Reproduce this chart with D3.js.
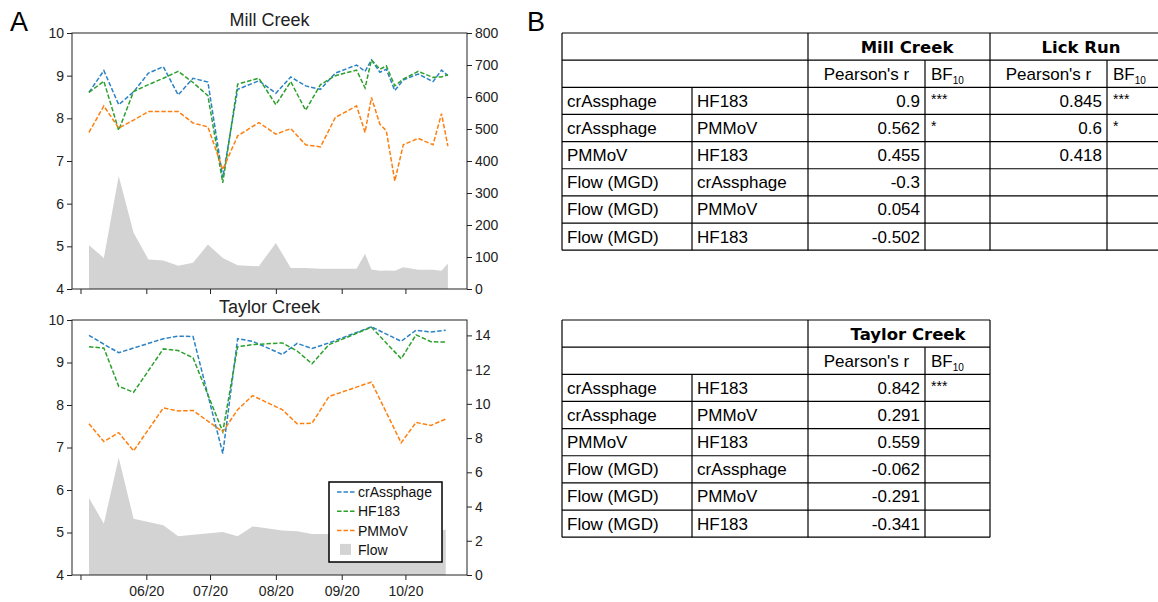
<!DOCTYPE html>
<html><head><meta charset="utf-8">
<script src="https://cdn.jsdelivr.net/npm/d3@7"></script>
<style>
body{margin:0;background:#fff}
svg{display:block;font-family:"Liberation Sans",Arial,sans-serif}
</style></head><body>
<svg id="c" width="1158" height="602"></svg>
<script>
// ---------- data ----------
const millDates = ["2020-05-05","2020-05-12","2020-05-19","2020-05-26","2020-06-02","2020-06-09","2020-06-16","2020-06-23","2020-06-30","2020-07-07","2020-07-14","2020-07-24","2020-08-01","2020-08-08","2020-08-15","2020-08-22","2020-08-29","2020-09-08","2020-09-12","2020-09-15","2020-09-19","2020-09-22","2020-09-26","2020-09-30","2020-10-07","2020-10-14","2020-10-18","2020-10-21"];
const millCrAssphage = [8.61,9.12,8.32,8.62,9.06,9.21,8.55,8.94,8.85,6.61,8.68,8.88,8.59,8.97,8.76,8.68,9.06,9.25,9.10,9.37,9.08,9.15,8.65,8.90,9.04,8.86,9.13,9.00];
const millHF183 = [8.61,8.87,7.72,8.63,8.79,8.94,9.10,8.84,8.53,6.49,8.80,8.94,8.32,8.86,8.19,8.79,9.00,9.13,8.71,9.37,9.15,9.23,8.76,8.92,9.10,8.96,8.97,9.02];
const millPMMoV = [7.67,8.29,7.77,7.96,8.16,8.16,8.16,7.89,7.80,6.80,7.59,7.90,7.63,7.76,7.38,7.33,8.02,8.29,7.67,8.49,7.86,7.71,6.53,7.38,7.53,7.38,8.11,7.35];
const millFlow = [137,97,353,176,92,89,73,82,139,97,74,71,144,66,66,63,63,63,110,61,57,58,57,68,60,60,57,80];

const taylorDates = ["2020-05-05","2020-05-12","2020-05-19","2020-05-26","2020-06-09","2020-06-16","2020-06-23","2020-07-07","2020-07-14","2020-07-21","2020-08-04","2020-08-11","2020-08-18","2020-08-26","2020-09-15","2020-09-29","2020-10-06","2020-10-13","2020-10-20"];
const taylorCrAssphage = [9.64,9.43,9.23,9.34,9.56,9.62,9.61,6.86,9.56,9.50,9.19,9.45,9.33,9.46,9.84,9.50,9.76,9.72,9.76];
const taylorHF183 = [9.37,9.34,8.44,8.30,9.32,9.28,9.11,7.37,9.37,9.42,9.46,9.27,8.97,9.42,9.83,9.09,9.65,9.49,9.48];
const taylorPMMoV = [7.56,7.14,7.35,6.92,7.93,7.86,7.87,7.37,7.89,8.22,7.89,7.56,7.57,8.20,8.54,7.11,7.59,7.52,7.67];
const taylorFlow = [4.50,3.00,6.85,3.29,2.90,2.27,2.35,2.51,2.27,2.84,2.60,2.55,2.40,2.40,2.45,2.50,2.50,2.55,2.65];

const xDomain = ["2020-04-27","2020-10-30"];
const xTickDates = ["2020-05-01","2020-06-01","2020-07-01","2020-08-01","2020-09-01","2020-10-01"];
const xTickLabels = ["","06/20","07/20","08/20","09/20","10/20"];
const leftTicks = [4,5,6,7,8,9,10];
const millFlowTicks = [0,100,200,300,400,500,600,700,800];
const taylorFlowTicks = [0,2,4,6,8,10,12,14];
const seriesNames = ["crAssphage","HF183","PMMoV","Flow"];

const pairA = ["crAssphage","crAssphage","PMMoV","Flow (MGD)","Flow (MGD)","Flow (MGD)"];
const pairB = ["HF183","PMMoV","HF183","crAssphage","PMMoV","HF183"];
const millR = ["0.9","0.562","0.455","-0.3","0.054","-0.502"];
const millBF = ["***","*","","","",""];
const lickR = ["0.845","0.6","0.418","","",""];
const lickBF = ["***","*","","","",""];
const taylorR = ["0.842","0.291","0.559","-0.062","-0.291","-0.341"];
const taylorBF = ["***","","","","",""];

// ---------- drawing ----------
const svg = d3.select("#c");
const parse = d3.timeParse("%Y-%m-%d");
const X0 = 72, X1 = 467;
const x = d3.scaleTime().domain(xDomain.map(parse)).range([X0, X1]);
const colors = ["#2b82c4","#2ca02c","#ff7f0e"];
const dash = "4.5,2";
const fmt = d3.format("d");

function panel(top, bottom, title, dates, series, flow, flowMax, flowTicks, showLabels, legend) {
  const g = svg.append("g");
  const yL = d3.scaleLinear().domain([4,10]).range([bottom, top]);
  const yR = d3.scaleLinear().domain([0, flowMax]).range([bottom, top]);
  const d = dates.map(parse);
  g.append("path").datum(flow)
    .attr("d", d3.area().x((v,i)=>x(d[i])).y0(yR(0)).y1(v=>yR(v)))
    .attr("fill","#d3d3d3");
  series.forEach((s,k)=>{
    g.append("path").datum(s)
      .attr("d", d3.line().x((v,i)=>x(d[i])).y(v=>yL(v)))
      .attr("fill","none").attr("stroke",colors[k]).attr("stroke-width",1.5)
      .attr("stroke-dasharray",dash);
  });
  const ax = (sel)=>{ sel.selectAll("text").attr("font-size",14).attr("fill","#222").attr("font-family","Liberation Sans, Arial, sans-serif");
    sel.selectAll("line").attr("stroke","#222"); sel.select(".domain").remove(); };
  g.append("g").attr("transform",`translate(${X0},0)`)
    .call(d3.axisLeft(yL).tickValues(leftTicks).tickFormat(fmt).tickSize(5).tickPadding(3).tickSizeOuter(0)).call(ax);
  g.append("g").attr("transform",`translate(${X1},0)`)
    .call(d3.axisRight(yR).tickValues(flowTicks).tickFormat(fmt).tickSize(5).tickPadding(3).tickSizeOuter(0)).call(ax);
  g.append("g").attr("transform",`translate(0,${bottom})`)
    .call(d3.axisBottom(x).tickValues(xTickDates.map(parse)).tickSize(5).tickPadding(6)
      .tickFormat((t,i)=> showLabels ? xTickLabels[i] : "")).call(ax);
  g.append("rect").attr("x",X0).attr("y",top).attr("width",X1-X0).attr("height",bottom-top)
    .attr("fill","none").attr("stroke","#222").attr("stroke-width",1);
  g.append("text").attr("x",(X0+X1)/2).attr("y",top-7).attr("text-anchor","middle")
    .attr("font-size",18).attr("fill","#222").text(title);
  if (legend) {
    const lg = g.append("g").attr("transform","translate(329,482)");
    lg.append("rect").attr("width",113).attr("height",80).attr("fill","#fff").attr("stroke","#000").attr("stroke-width",1.5);
    seriesNames.forEach((n,i)=>{
      const cy = 10 + i*19.3;
      if (i<3) lg.append("line").attr("x1",8).attr("x2",26).attr("y1",cy).attr("y2",cy)
          .attr("stroke",colors[i]).attr("stroke-width",1.5).attr("stroke-dasharray",dash);
      else lg.append("rect").attr("x",11).attr("y",cy-6).attr("width",11).attr("height",11).attr("fill","#d3d3d3");
      lg.append("text").attr("x",29).attr("y",cy+5).attr("font-size",14).attr("fill","#111").text(n);
    });
  }
}

panel(33, 289, "Mill Creek", millDates, [millCrAssphage, millHF183, millPMMoV], millFlow, 800, millFlowTicks, false, false);
panel(320, 575, "Taylor Creek", taylorDates, [taylorCrAssphage, taylorHF183, taylorPMMoV], taylorFlow, 14.9, taylorFlowTicks, true, true);

svg.append("text").attr("x",10).attr("y",31).attr("font-size",27).attr("fill","#000").text("A");
svg.append("text").attr("x",527).attr("y",31).attr("font-size",27).attr("fill","#000").text("B");

// ---------- tables ----------
function table(top, groups) {
  const g = svg.append("g");
  const rowH = 27.15, nRows = 8;
  const x0 = 562, c1 = 692, c2 = 808, wR = 117, wB = 65;
  const xEnd = c2 + groups.length*(wR+wB);
  const bottom = top + nRows*rowH;
  const L = (xa,ya,xb,yb)=>g.append("line").attr("x1",xa).attr("y1",ya).attr("x2",xb).attr("y2",yb)
    .attr("stroke","#000").attr("stroke-width",1.2);
  for (let k=0;k<=nRows;k++) L(x0, top+k*rowH, xEnd, top+k*rowH);
  L(x0, top, x0, bottom); L(c2, top, c2, bottom);
  L(c1, top+2*rowH, c1, bottom);
  const base = k => top + k*rowH + rowH/2 + 6;
  const T = (xx, k, s, anchor) => g.append("text").attr("x",xx).attr("y",base(k))
    .attr("text-anchor",anchor||"start").attr("font-size",17).attr("fill","#000").text(s);
  groups.forEach((gr,j)=>{
    const gx = c2 + j*(wR+wB);
    L(gx+wR, top+rowH, gx+wR, bottom);
    L(gx+wR+wB, top, gx+wR+wB, bottom);
    g.append("text").attr("x",gx+(wR+wB)/2+gr.off).attr("y",base(0)).attr("text-anchor","middle")
      .attr("font-family","DejaVu Sans, sans-serif").attr("font-weight","bold").attr("font-size",16.5)
      .attr("fill","#000").text(gr.name);
    T(gx+wR/2, 1, "Pearson's r", "middle");
    const bf = g.append("text").attr("x",gx+wR+6).attr("y",base(1)).attr("font-size",17).attr("fill","#000");
    bf.append("tspan").text("BF");
    bf.append("tspan").attr("font-size",10).attr("dy",4).text("10");
    gr.r.forEach((v,i)=>{ T(gx+wR-5, i+2, v, "end"); });
    gr.bf.forEach((v,i)=>{ if (v) T(gx+wR+6, i+2, v).attr("font-size",14).attr("dy",-3); });
  });
  pairA.forEach((s,i)=>T(x0+5, i+2, s));
  pairB.forEach((s,i)=>T(c1+5, i+2, s));
}
table(33, [{name:"Mill Creek", r:millR, bf:millBF, off:8},{name:"Lick Run", r:lickR, bf:lickBF, off:0}]);
table(320, [{name:"Taylor Creek", r:taylorR, bf:taylorBF, off:9}]);
</script>
</body></html>
